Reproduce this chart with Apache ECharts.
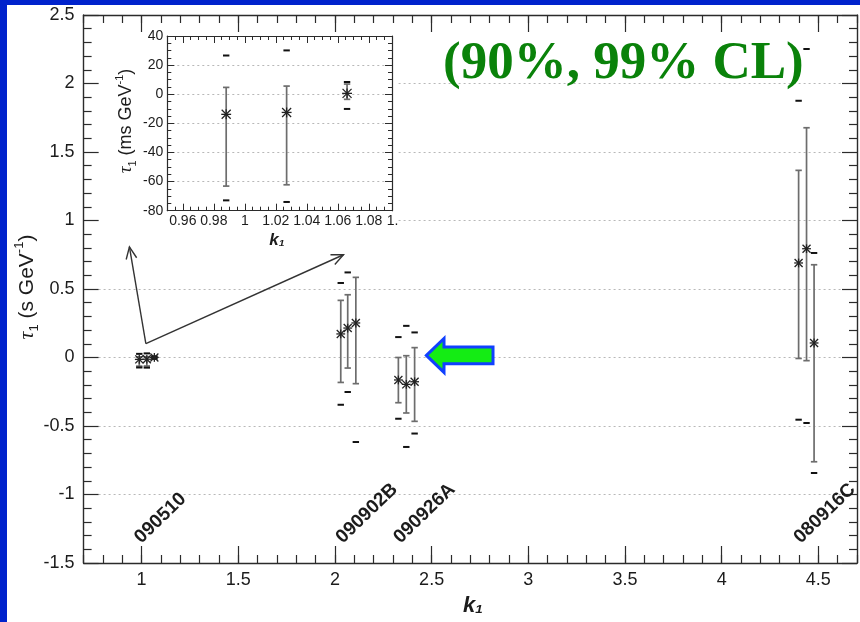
<!DOCTYPE html>
<html>
<head>
<meta charset="utf-8">
<title>Spectral lag coefficients</title>
<script src="https://cdn.jsdelivr.net/npm/echarts@6/dist/echarts.min.js"></script>
<style>
  html, body { margin: 0; padding: 0; background: #0022cc; }
  #chart { width: 860px; height: 622px; }
</style>
</head>
<body>
<div id="chart"></div>
<script>
// ---- data -------------------------------------------------------------
const burstNames = ['090510', '090902B', '090926A', '080916C'];

// GRB 090510, tau_1 in ms GeV^-1 (shown in the inset, and in s GeV^-1 on the main plot)
const k1_090510   = [0.988, 1.027, 1.066];
const tau_090510  = [-13.8, -12.5, 0.6];
const lo90_090510 = [-63.1, -62.2, -3.5];
const hi90_090510 = [4.7, 5.6, 7.0];
const lo99_090510 = [-72.9, -74.0, -10.1];
const hi99_090510 = [26.6, 30.1, 8.4];

// GRB 090902B, tau_1 in s GeV^-1
const k1_090902B   = [2.030, 2.066, 2.108];
const tau_090902B  = [0.172, 0.215, 0.252];
const lo90_090902B = [-0.182, -0.077, -0.191];
const hi90_090902B = [0.417, 0.458, 0.585];
const lo99_090902B = [-0.345, -0.252, -0.617];
const hi99_090902B = [0.544, 0.621, null];

// GRB 090926A
const k1_090926A   = [2.328, 2.369, 2.412];
const tau_090926A  = [-0.164, -0.196, -0.177];
const lo90_090926A = [-0.330, -0.405, -0.466];
const hi90_090926A = [0.000, 0.013, 0.072];
const lo99_090926A = [-0.447, -0.653, -0.555];
const hi99_090926A = [0.149, 0.231, 0.183];

// GRB 080916C
const k1_080916C   = [4.398, 4.439, 4.478];
const tau_080916C  = [0.690, 0.794, 0.106];
const lo90_080916C = [-0.007, -0.023, -0.761];
const hi90_080916C = [1.366, 1.677, 0.677];
const lo99_080916C = [-0.454, -0.478, -0.843];
const hi99_080916C = [1.874, 2.252, 0.763];

// tick labels
const mainXTicks  = [1, 1.5, 2, 2.5, 3, 3.5, 4, 4.5];
const insetXTicks = [0.96, 0.98, 1, 1.02, 1.04, 1.06, 1.08];

// annotation anchors (data coordinates of the main plot)
const zoomArrowFrom = [1.022, 0.101];
const zoomArrowTo   = [[0.937, 0.807], [2.044, 0.750]];
const greenArrowTip = [2.473, 0.015];

// ---- helpers ----------------------------------------------------------
function rows(k, t, lo90, hi90, lo99, hi99, scale) {
  return k.map((kv, i) => [
    kv, t[i] * scale, lo90[i] * scale, hi90[i] * scale,
    lo99[i] == null ? null : lo99[i] * scale,
    hi99[i] == null ? null : hi99[i] * scale
  ]);
}

const mainRows = [].concat(
  rows(k1_090510, tau_090510, lo90_090510, hi90_090510, lo99_090510, hi99_090510, 0.001),
  rows(k1_090902B, tau_090902B, lo90_090902B, hi90_090902B, lo99_090902B, hi99_090902B, 1),
  rows(k1_090926A, tau_090926A, lo90_090926A, hi90_090926A, lo99_090926A, hi99_090926A, 1),
  rows(k1_080916C, tau_080916C, lo90_080916C, hi90_080916C, lo99_080916C, hi99_080916C, 1)
);
const insetRows = rows(k1_090510, tau_090510, lo90_090510, hi90_090510, lo99_090510, hi99_090510, 1);

const FONT = "'Liberation Sans', Arial, Helvetica, sans-serif";
const INK = '#1c1c1c';
const AXIS = { color: '#2b2b2b', width: 1.4 };

function errorBarRenderer(o) {
  return function (params, api) {
    const k = api.value(0);
    const c = api.coord([k, api.value(1)]);
    const x = c[0];
    const yLo = api.coord([k, api.value(2)])[1];
    const yHi = api.coord([k, api.value(3)])[1];
    const bar = { stroke: '#6d6d6d', lineWidth: o.barWidth };
    const kids = [
      { type: 'line', shape: { x1: x, y1: yLo, x2: x, y2: yHi }, style: bar },
      { type: 'line', shape: { x1: x - o.cap, y1: yLo, x2: x + o.cap, y2: yLo }, style: bar },
      { type: 'line', shape: { x1: x - o.cap, y1: yHi, x2: x + o.cap, y2: yHi }, style: bar }
    ];
    [api.value(4), api.value(5)].forEach(v => {
      if (v != null && !isNaN(v)) {
        const yy = api.coord([k, v])[1];
        kids.push({ type: 'line', shape: { x1: x - o.dash, y1: yy, x2: x + o.dash, y2: yy },
                    style: { stroke: '#111', lineWidth: 2 } });
      }
    });
    const r = o.star, y = c[1];
    const s = { stroke: '#222', lineWidth: 1.3 };
    kids.push({ type: 'line', shape: { x1: x - r, y1: y - r, x2: x + r, y2: y + r }, style: s });
    kids.push({ type: 'line', shape: { x1: x - r, y1: y + r, x2: x + r, y2: y - r }, style: s });
    kids.push({ type: 'line', shape: { x1: x - r * 1.1, y1: y, x2: x + r * 1.1, y2: y }, style: s });
    kids.push({ type: 'line', shape: { x1: x, y1: y - r * 1.1, x2: x, y2: y + r * 1.1 }, style: s });
    return { type: 'group', children: kids };
  };
}

function zoomArrowRenderer(params, api) {
  const a = api.coord([api.value(0), api.value(1)]);
  const b = api.coord([api.value(2), api.value(3)]);
  const ang = Math.atan2(b[1] - a[1], b[0] - a[0]);
  const L = 13, spread = 0.42;
  const p1 = [b[0] - L * Math.cos(ang - spread), b[1] - L * Math.sin(ang - spread)];
  const p2 = [b[0] - L * Math.cos(ang + spread), b[1] - L * Math.sin(ang + spread)];
  const st = { stroke: '#333', lineWidth: 1.4, fill: null };
  return {
    type: 'group',
    children: [
      { type: 'line', shape: { x1: a[0], y1: a[1], x2: b[0], y2: b[1] }, style: st },
      { type: 'polyline', shape: { points: [p1, b, p2] }, style: st }
    ]
  };
}

function near(v, step) { return Math.abs(v / step - Math.round(v / step)) < 1e-6; }

const dotted = { color: '#b8b8b8', width: 1, type: [2, 3] };
const TICK = { color: '#2b2b2b', width: 1.2 };
const TICK_S = { color: '#2b2b2b', width: 1 };
const noLine = { show: false, onZero: false };

// ---- chart ------------------------------------------------------------
const chart = echarts.init(document.getElementById('chart'), null, { renderer: 'canvas' });

const MX = { min: 0.7, max: 4.7 };
const MY = { min: -1.5, max: 2.5 };
const IX = { min: 0.95, max: 1.095 };
const IY = { min: -80, max: 40 };

chart.setOption({
  backgroundColor: '#0022cc',
  animation: false,
  grid: [
    { left: 83.6, top: 15, width: 783.2, height: 548 },
    { left: 167.3, top: 36, width: 224.7, height: 174.7 }
  ],
  xAxis: [
    // main plot: minor ticks + labels (bottom)
    { gridIndex: 0, type: 'value', position: 'bottom', min: MX.min, max: MX.max, interval: 0.1,
      axisLine: { show: true, onZero: false, lineStyle: AXIS },
      axisTick: { inside: true, length: 8, lineStyle: TICK },
      axisLabel: { margin: 8, fontSize: 18, color: INK, fontFamily: FONT, showMinLabel: true, showMaxLabel: true,
        formatter: v => near(v, 0.5) && v >= 0.99 && v <= 4.51 ? String(+v.toFixed(1)) : '' },
      splitLine: { show: false } },
    // main plot: major ticks (bottom)
    { gridIndex: 0, type: 'value', position: 'bottom', min: MX.min, max: MX.max,
      axisLine: noLine,
      axisTick: { inside: true, length: 17, customValues: mainXTicks, lineStyle: TICK },
      axisLabel: { show: false }, splitLine: { show: false } },
    // main plot: top frame
    { gridIndex: 0, type: 'value', position: 'top', min: MX.min, max: MX.max, interval: 0.1,
      axisLine: { show: true, onZero: false, lineStyle: AXIS },
      axisTick: { inside: true, length: 8, lineStyle: TICK },
      axisLabel: { show: false }, splitLine: { show: false } },
    { gridIndex: 0, type: 'value', position: 'top', min: MX.min, max: MX.max,
      axisLine: noLine,
      axisTick: { inside: true, length: 17, customValues: mainXTicks, lineStyle: TICK },
      axisLabel: { show: false }, splitLine: { show: false } },
    // inset: bottom with labels
    { gridIndex: 1, type: 'value', position: 'bottom', min: IX.min, max: IX.max, interval: 0.005, z: 10,
      axisLine: { show: true, onZero: false, lineStyle: { color: '#2b2b2b', width: 1.2 } },
      axisTick: { inside: true, length: 4, lineStyle: TICK_S },
      axisLabel: { margin: 3, fontSize: 14, color: INK, fontFamily: FONT,
        formatter: v => near(v, 0.02) && v > 0.955 ? String(+v.toFixed(2)) : '' },
      splitLine: { show: false } },
    { gridIndex: 1, type: 'value', position: 'bottom', min: IX.min, max: IX.max, z: 10,
      axisLine: noLine,
      axisTick: { inside: true, length: 7, customValues: insetXTicks, lineStyle: TICK_S },
      axisLabel: { show: false }, splitLine: { show: false } },
    // inset: top frame
    { gridIndex: 1, type: 'value', position: 'top', min: IX.min, max: IX.max, interval: 0.005, z: 10,
      axisLine: { show: true, onZero: false, lineStyle: { color: '#2b2b2b', width: 1.2 } },
      axisTick: { inside: true, length: 4, lineStyle: TICK_S },
      axisLabel: { show: false }, splitLine: { show: false } },
    { gridIndex: 1, type: 'value', position: 'top', min: IX.min, max: IX.max, z: 10,
      axisLine: noLine,
      axisTick: { inside: true, length: 7, customValues: insetXTicks, lineStyle: TICK_S },
      axisLabel: { show: false }, splitLine: { show: false } }
  ],
  yAxis: [
    { gridIndex: 0, type: 'value', position: 'left', min: MY.min, max: MY.max, interval: 0.5,
      axisLine: { show: true, onZero: false, lineStyle: AXIS },
      axisTick: { inside: true, length: 15, lineStyle: TICK },
      minorTick: { show: true, splitNumber: 5, length: 8, lineStyle: TICK },
      axisLabel: { margin: 9, fontSize: 18, color: INK, fontFamily: FONT },
      splitLine: { show: true, lineStyle: dotted } },
    { gridIndex: 0, type: 'value', position: 'right', min: MY.min, max: MY.max, interval: 0.5,
      axisLine: { show: true, onZero: false, lineStyle: AXIS },
      axisTick: { inside: true, length: 15, lineStyle: TICK },
      minorTick: { show: true, splitNumber: 5, length: 8, lineStyle: TICK },
      axisLabel: { show: false }, splitLine: { show: false } },
    { gridIndex: 1, type: 'value', position: 'left', min: IY.min, max: IY.max, interval: 20, z: 10,
      axisLine: { show: true, onZero: false, lineStyle: { color: '#2b2b2b', width: 1.2 } },
      axisTick: { inside: true, length: 7, lineStyle: TICK_S },
      minorTick: { show: true, splitNumber: 4, length: 4, lineStyle: TICK_S },
      axisLabel: { margin: 4, fontSize: 14, color: INK, fontFamily: FONT },
      splitLine: { show: true, lineStyle: dotted } },
    { gridIndex: 1, type: 'value', position: 'right', min: IY.min, max: IY.max, interval: 20, z: 10,
      axisLine: { show: true, onZero: false, lineStyle: { color: '#2b2b2b', width: 1.2 } },
      axisTick: { inside: true, length: 7, lineStyle: TICK_S },
      minorTick: { show: true, splitNumber: 4, length: 4, lineStyle: TICK_S },
      axisLabel: { show: false }, splitLine: { show: false } }
  ],
  series: [
    { type: 'custom', name: 'main', xAxisIndex: 0, yAxisIndex: 0, z: 6,
      encode: { x: 0, y: 1 }, data: mainRows,
      renderItem: errorBarRenderer({ barWidth: 1.7, cap: 3.2, dash: 3.2, star: 4 }) },
    { type: 'custom', name: 'zoom arrows', xAxisIndex: 0, yAxisIndex: 0, z: 7,
      encode: { x: 0, y: 1 },
      data: zoomArrowTo.map(t => [zoomArrowFrom[0], zoomArrowFrom[1], t[0], t[1]]),
      renderItem: zoomArrowRenderer },
    { type: 'custom', name: 'inset', xAxisIndex: 4, yAxisIndex: 2, z: 11,
      encode: { x: 0, y: 1 }, data: insetRows,
      renderItem: errorBarRenderer({ barWidth: 1.7, cap: 3.2, dash: 3.2, star: 4.5 }) }
  ]
});

// ---- annotations ------------------------------------------------------
const toPx = (p) => chart.convertToPixel({ xAxisIndex: 0, yAxisIndex: 0 }, p);
const insetPx = (p) => chart.convertToPixel({ xAxisIndex: 4, yAxisIndex: 2 }, p);

const firstK = [k1_090510[0], k1_090902B[0], k1_090926A[0], k1_080916C[0]];
const bottomY = toPx([1, MY.min])[1];
const burstLabels = burstNames.map((name, i) => ({
  type: 'text', z: 20,
  x: toPx([firstK[i], 0])[0] + 5,
  y: bottomY - 16,
  rotation: 44 * Math.PI / 180,
  style: { text: name, fontSize: 19, fontWeight: 'bold', fontFamily: FONT, fill: INK,
           align: 'left', verticalAlign: 'bottom' }
}));

const tip = toPx(greenArrowTip);
const gx = tip[0], gy = tip[1];
const greenArrow = {
  type: 'polygon', z: 20,
  shape: { points: [
    [gx, gy], [gx + 17.6, gy - 17], [gx + 17.6, gy - 8.4], [gx + 66.6, gy - 8.4],
    [gx + 66.6, gy + 8.4], [gx + 17.6, gy + 8.4], [gx + 17.6, gy + 17]
  ] },
  style: { fill: '#14ec14', stroke: '#1040ff', lineWidth: 3, lineJoin: 'miter' }
};

const clipLabelX = insetPx([1.1, 0])[0];
const insetBottom = insetPx([1, IY.min])[1];

chart.setOption({
  graphic: [
    // white page
    { type: 'rect', z: -10, shape: { x: 7, y: 5, width: 853, height: 617 }, style: { fill: '#fff' } },
    // inset panel background
    { type: 'rect', z: 5, shape: { x: 99, y: 33, width: 297, height: 220 }, style: { fill: '#fff' } },
    // truncated last inset tick label
    { type: 'text', z: 12, x: clipLabelX - 13, y: insetBottom + 3,
      style: { text: '1.', fontSize: 14, fontFamily: FONT, fill: INK, align: 'left', verticalAlign: 'top' } },
    // axis titles
    { type: 'text', z: 20, x: 473, y: 606,
      style: { text: 'k₁', fontSize: 22, fontWeight: 'bold', fontStyle: 'italic', fontFamily: FONT,
               fill: INK, align: 'center', verticalAlign: 'middle' } },
    { type: 'text', z: 20, x: 277, y: 240,
      style: { text: 'k₁', fontSize: 17, fontWeight: 'bold', fontStyle: 'italic', fontFamily: FONT,
               fill: INK, align: 'center', verticalAlign: 'middle' } },
    { type: 'text', z: 20, x: 27, y: 287, rotation: Math.PI / 2,
      style: { text: '{t|τ}{s|1}{a| (s GeV}{p|-1}{a|)}', align: 'center', verticalAlign: 'middle',
        rich: {
          t: { fontSize: 22, fontStyle: 'italic', fontFamily: "'Liberation Serif', serif", fill: INK, lineHeight: 28, verticalAlign: 'middle' },
          s: { fontSize: 13, fontFamily: FONT, fill: INK, lineHeight: 28, verticalAlign: 'bottom' },
          a: { fontSize: 21, fontFamily: FONT, fill: INK, lineHeight: 28, verticalAlign: 'middle' },
          p: { fontSize: 13, fontFamily: FONT, fill: INK, lineHeight: 28, verticalAlign: 'top' }
        } } },
    { type: 'text', z: 20, x: 126, y: 121, rotation: Math.PI / 2,
      style: { text: '{t|τ}{s|1}{a| (ms GeV}{p|-1}{a|)}', align: 'center', verticalAlign: 'middle',
        rich: {
          t: { fontSize: 19, fontStyle: 'italic', fontFamily: "'Liberation Serif', serif", fill: INK, lineHeight: 24, verticalAlign: 'middle' },
          s: { fontSize: 11, fontFamily: FONT, fill: INK, lineHeight: 24, verticalAlign: 'bottom' },
          a: { fontSize: 18, fontFamily: FONT, fill: INK, lineHeight: 24, verticalAlign: 'middle' },
          p: { fontSize: 11, fontFamily: FONT, fill: INK, lineHeight: 24, verticalAlign: 'top' }
        } } },
    // confidence-level caption
    { type: 'text', z: 20, x: 443, y: 64,
      style: { text: '(90%, 99% CL)', fontSize: 53, fontWeight: 'bold',
               fontFamily: "'Liberation Serif', 'Times New Roman', serif", fill: '#0a820a',
               align: 'left', verticalAlign: 'middle' } },
    greenArrow
  ].concat(burstLabels)
});
</script>
</body>
</html>
